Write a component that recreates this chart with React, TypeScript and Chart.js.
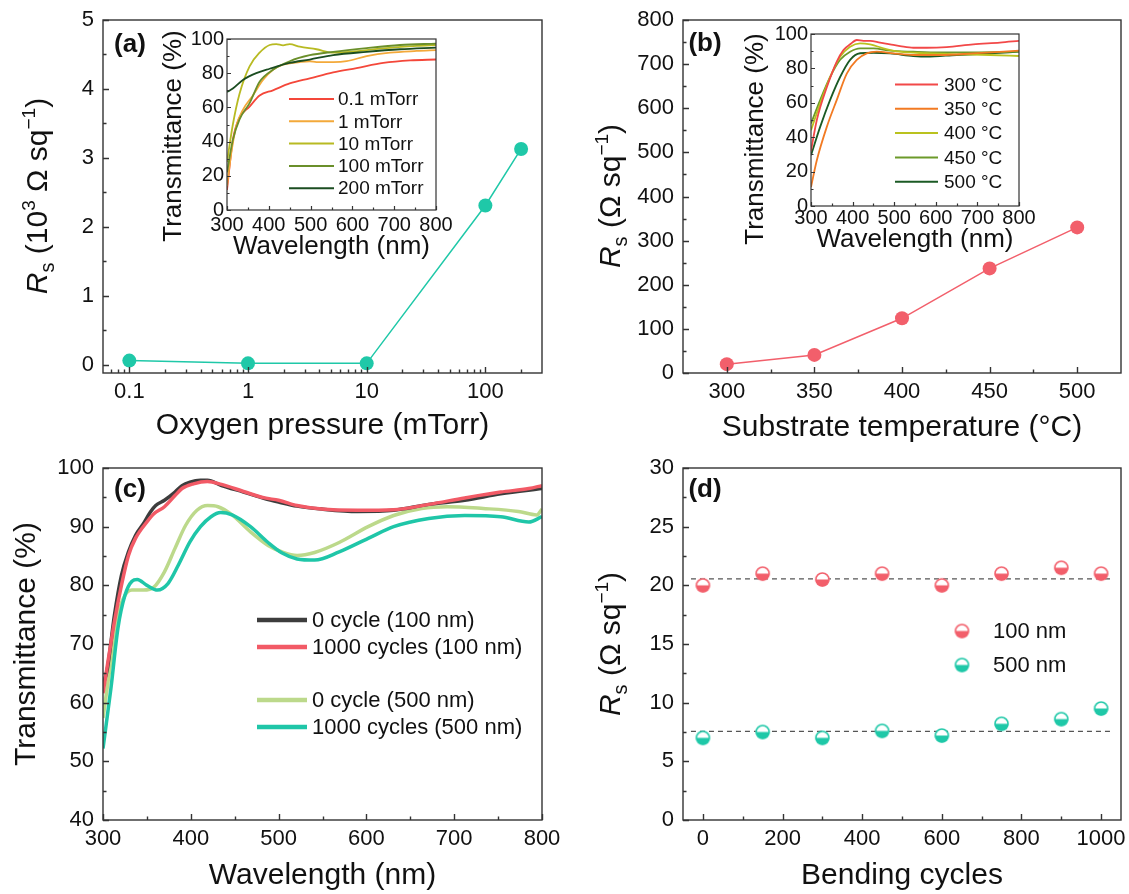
import React, { useEffect, useRef } from 'react';
import { Chart, registerables } from 'chart.js';
Chart.register(...registerables);

// ---------------- data ----------------
// (a) sheet resistance vs oxygen pressure (10^3 ohm/sq)
const pressureMTorr = [0.1, 1, 10, 100, 200];
const rsPressure = [0.06, 0.02, 0.02, 2.31, 3.13];
const pressureTicks = [0.1, 1, 10, 100];
const pressureMinor = [0.07, 0.08, 0.09, 0.2, 0.3, 0.4, 0.5, 0.6, 0.7, 0.8, 0.9, 2, 3, 4, 5, 6, 7, 8, 9, 20, 30, 40, 50, 60, 70, 80, 90, 200];
const rsPressureTicks = [0, 1, 2, 3, 4, 5];

// (a) inset spectra
const insetALabels = ['0.1 mTorr', '1 mTorr', '10 mTorr', '100 mTorr', '200 mTorr'];
const wlA01 = [300, 314, 330, 354, 378, 410, 450, 498, 554, 610, 674, 738, 800];
const tA01 = [11.7, 41, 54, 60.5, 67, 70, 74, 77, 80.5, 83, 86, 87.5, 88];
const wlA1 = [300, 310, 322, 338, 362, 386, 410, 434, 474, 498, 514, 554, 586, 634, 690, 754, 800];
const tA1 = [14, 33, 49, 58.6, 67, 76, 82, 85, 86.5, 87, 86.5, 86.5, 87, 90, 92, 93, 93.5];
const wlA10 = [300, 314, 330, 354, 378, 402, 418, 434, 450, 474, 514, 554, 594, 674, 754, 800];
const tA10 = [28, 50, 68, 84, 92, 96.5, 97, 96.3, 97, 95.5, 94, 92, 92.5, 94.5, 96, 96.5];
const wlA100 = [300, 314, 330, 354, 378, 410, 450, 498, 554, 634, 714, 800];
const tA100 = [22, 41, 53, 62.5, 75, 82, 87, 90.5, 92.5, 94.7, 96.5, 97.3];
const wlA200 = [300, 314, 338, 370, 402, 450, 498, 554, 634, 714, 800];
const tA200 = [69, 71, 76, 80, 82.6, 86, 88, 90.6, 92.5, 94, 95];

// (b) sheet resistance vs substrate temperature (ohm/sq)
const substrateTemp = [300, 350, 400, 450, 500];
const rsTemp = [20, 41, 124, 237, 330];
const tempTicks = [300, 350, 400, 450, 500];
const tempMinor = [325, 375, 425, 475];
const rsTempTicks = [0, 100, 200, 300, 400, 500, 600, 700, 800];
const rsTempMinor = [50, 150, 250, 350, 450, 550, 650, 750];

// (b) inset spectra
const insetBLabels = ['300 °C', '350 °C', '400 °C', '450 °C', '500 °C'];
const wlB300 = [300, 314, 338, 362, 378, 394, 410, 426, 442, 466, 490, 514, 546, 578, 626, 690, 754, 800];
const tB300 = [32, 50, 69, 84, 90.7, 94, 96.5, 96, 96, 95, 94, 93, 92, 92, 92.4, 94, 95, 96];
const wlB350 = [300, 314, 338, 362, 386, 410, 434, 458, 498, 546, 610, 690, 800];
const tB350 = [11, 26.6, 46, 61.7, 77, 84.9, 88.7, 89.7, 88.7, 87.8, 87.8, 88.7, 90.3];
const wlB400 = [300, 322, 346, 370, 394, 418, 442, 474, 514, 578, 650, 730, 800];
const tB400 = [44, 59.6, 75, 86.8, 92.6, 94.6, 94, 91.7, 89.7, 88.8, 88.2, 87.8, 87.2];
const wlB450 = [300, 322, 346, 370, 394, 418, 450, 490, 546, 610, 690, 800];
const tB450 = [48, 61.6, 75, 85, 89.7, 91.7, 91.7, 90.3, 89.7, 89.3, 89.3, 89.7];
const wlB500 = [300, 322, 346, 370, 394, 418, 450, 490, 546, 578, 650, 730, 800];
const tB500 = [29.5, 46, 61.7, 75, 85, 88.8, 89.1, 88.7, 87.2, 86.8, 87.8, 88.7, 89.7];

// shared inset ticks
const insetWlTicks = [300, 400, 500, 600, 700, 800];
const insetWlMinor = [350, 450, 550, 650, 750];
const insetTTicks = [0, 20, 40, 60, 80, 100];
const insetTMinor = [10, 30, 50, 70, 90];

// (c) transmittance before/after bending
const cLabels = ['0 cycle (100 nm)', '1000 cycles (100 nm)', '0 cycle (500 nm)', '1000 cycles (500 nm)'];
const wlC0_100 = [300, 305, 313, 321, 329, 337, 346, 354, 360, 370, 382, 390, 399, 411, 419, 435, 460, 484, 500, 521, 549, 590, 631, 671, 712, 753, 800];
const tC0_100 = [63, 65.8, 74.9, 81.7, 85.7, 88.5, 90.5, 92.5, 93.6, 94.5, 95.9, 97, 97.6, 97.9, 97.9, 97, 95.9, 94.8, 94.2, 93.5, 93, 92.6, 92.8, 93.8, 94.5, 95.6, 96.5];
const wlC1000_100 = [300, 313, 321, 329, 337, 350, 358, 370, 382, 390, 403, 419, 435, 460, 484, 500, 521, 549, 590, 631, 671, 712, 753, 785, 800];
const tC1000_100 = [61.6, 73.8, 80, 85.1, 88, 90.8, 92.2, 93.4, 95.3, 96.5, 97.3, 97.7, 97.2, 96, 94.9, 94.5, 93.6, 93, 92.8, 92.9, 93.8, 94.9, 95.9, 96.5, 97];
const wlC0_500 = [300, 309, 317, 325, 333, 346, 358, 370, 382, 394, 407, 419, 431, 447, 468, 488, 504, 521, 541, 569, 602, 631, 663, 692, 733, 773, 794, 800];
const tC0_500 = [57.4, 67, 74.9, 78.3, 79.2, 79.2, 79.7, 82.3, 86.3, 90.2, 92.8, 93.6, 93.4, 92, 89.1, 86.8, 85.7, 85.1, 85.6, 87.3, 90, 91.9, 93.1, 93.4, 93.1, 92.6, 92, 93];
const wlC1000_500 = [300, 309, 317, 325, 333, 339, 350, 362, 374, 386, 399, 411, 423, 434, 447, 468, 488, 504, 521, 541, 569, 602, 631, 671, 712, 753, 785, 800];
const tC1000_500 = [52.2, 62.4, 72.7, 78.3, 80.7, 81, 80, 79.2, 80.3, 83.5, 87.4, 90, 91.7, 92.4, 92, 90, 87.3, 85.5, 84.5, 84.3, 85.7, 88, 90, 91.4, 91.9, 91.7, 90.8, 91.7];
const cWlTicks = [300, 400, 500, 600, 700, 800];
const cWlMinor = [350, 450, 550, 650, 750];
const cTTicks = [40, 50, 60, 70, 80, 90, 100];
const cTMinor = [45, 55, 65, 75, 85, 95];

// (d) sheet resistance vs bending cycles
const dLabels = ['100 nm', '500 nm'];
const bendCycles = [0, 150, 300, 450, 600, 750, 900, 1000];
const rs100 = [20, 21, 20.5, 21, 20, 21, 21.5, 21];
const rs500 = [7, 7.5, 7, 7.6, 7.2, 8.2, 8.6, 9.5];
const avgSpan = [-30, 1030];
const avg100 = 20.55;
const avg500 = 7.55;
const bendTicks = [0, 200, 400, 600, 800, 1000];
const bendMinor = [100, 300, 500, 700, 900];
const rsBendTicks = [0, 5, 10, 15, 20, 25, 30];
const rsBendMinor = [2.5, 7.5, 12.5, 17.5, 22.5, 27.5];

// ---------------- styling ----------------
const FONT = "'Liberation Sans', Arial, Helvetica, sans-serif";
const TXT = '#111';
const FRAME = '#333';
const TEAL = '#1fc8a8';
const PINK = '#f25f6b';
const insetAColors = ['#f4473a', '#f3a93a', '#b8ba22', '#6a8f2a', '#1b4d21'];
const insetBColors = ['#f24848', '#f27a22', '#bac21e', '#6c9a2a', '#1b5a24'];
const cColors = ['#3d3d3d', '#f25a66', '#bcd98b', '#1fc6a8'];

const pts = (xs: number[], ys: number[]) => xs.map((x, i) => ({ x, y: ys[i] }));

type Seg = { t: string; size: number; dy?: number; italic?: boolean; bold?: boolean };
type Rich = { x: number; y: number; rot?: boolean; segs: Seg[] };
type LegItem = { x1?: number; x2?: number; img?: HTMLCanvasElement; ix?: number; y: number; color?: string; lw?: number; text: string; tx: number; size: number };
type Deco = {
  xMajor: number[]; xMinor: number[]; yMajor: number[]; yMinor: number[];
  major: number; minor: number; lw: number; titles: Rich[]; legend: LegItem[];
};

function drawRich(ctx: CanvasRenderingContext2D, r: Rich) {
  ctx.save();
  ctx.translate(r.x, r.y);
  if (r.rot) ctx.rotate(-Math.PI / 2);
  ctx.textBaseline = 'alphabetic';
  ctx.textAlign = 'left';
  ctx.fillStyle = TXT;
  const main = r.segs[0].size;
  const fonts = r.segs.map(s => `${s.italic ? 'italic ' : ''}${s.bold ? 'bold ' : ''}${s.size}px ${FONT}`);
  const widths = r.segs.map((s, i) => { ctx.font = fonts[i]; return ctx.measureText(s.t).width; });
  const total = widths.reduce((a, b) => a + b, 0);
  let x = -total / 2;
  const base = main * 0.36;
  r.segs.forEach((s, i) => {
    ctx.font = fonts[i];
    ctx.fillText(s.t, x, base + (s.dy || 0));
    x += widths[i];
  });
  ctx.restore();
}

function makeDeco(d: Deco) {
  return {
    id: 'deco',
    afterDraw(chart: any) {
      const ctx: CanvasRenderingContext2D = chart.ctx;
      const ca = chart.chartArea;
      const xs = chart.scales.x;
      const ys = chart.scales.y;
      ctx.save();
      ctx.strokeStyle = FRAME;
      ctx.lineWidth = d.lw;
      ctx.strokeRect(ca.left, ca.top, ca.right - ca.left, ca.bottom - ca.top);
      ctx.beginPath();
      const tx = (vals: number[], len: number) => vals.forEach(v => {
        const p = Math.round(xs.getPixelForValue(v)) + 0.5;
        ctx.moveTo(p, ca.bottom); ctx.lineTo(p, ca.bottom - len);
      });
      const ty = (vals: number[], len: number) => vals.forEach(v => {
        const p = Math.round(ys.getPixelForValue(v)) + 0.5;
        ctx.moveTo(ca.left, p); ctx.lineTo(ca.left + len, p);
      });
      tx(d.xMajor, d.major); tx(d.xMinor, d.minor);
      ty(d.yMajor, d.major); ty(d.yMinor, d.minor);
      ctx.stroke();
      ctx.restore();
      d.titles.forEach(t => drawRich(ctx, t));
      d.legend.forEach(it => {
        ctx.save();
        if (it.img) {
          ctx.drawImage(it.img, (it.ix as number) - it.img.width / 2, it.y - it.img.height / 2);
        } else {
          ctx.strokeStyle = it.color as string;
          ctx.lineWidth = it.lw || 2;
          ctx.beginPath();
          ctx.moveTo(it.x1 as number, it.y);
          ctx.lineTo(it.x2 as number, it.y);
          ctx.stroke();
        }
        ctx.fillStyle = TXT;
        ctx.font = `${it.size}px ${FONT}`;
        ctx.textBaseline = 'middle';
        ctx.textAlign = 'left';
        ctx.fillText(it.text, it.tx, it.y + 1);
        ctx.restore();
      });
    },
  };
}

function axis(o: {
  pos: 'x' | 'y'; type?: string; min: number; max: number; ticks: number[]; size: number;
  fontSize: number; pad: number; title?: string; titleSize?: number; titlePadBottom?: number;
}) {
  const s: any = {
    type: o.type || 'linear',
    position: o.pos === 'x' ? 'bottom' : 'left',
    min: o.min,
    max: o.max,
    afterBuildTicks: (sc: any) => { sc.ticks = o.ticks.map(v => ({ value: v })); },
    afterFit: (sc: any) => {
      if (o.pos === 'x') sc.height = o.size; else sc.width = o.size;
      sc.paddingLeft = 0; sc.paddingRight = 0; sc.paddingTop = 0; sc.paddingBottom = 0;
    },
    grid: { display: false, drawTicks: false },
    border: { display: false },
    ticks: {
      font: { family: FONT, size: o.fontSize },
      color: TXT,
      padding: o.pad,
      maxRotation: 0,
      minRotation: 0,
      autoSkip: false,
      callback: (v: any) => String(v),
    },
    title: o.title
      ? { display: true, text: o.title, color: TXT, font: { family: FONT, size: o.titleSize }, padding: { top: 0, bottom: o.titlePadBottom || 0 } }
      : { display: false },
  };
  return s;
}

function halfMarker(color: string, r = 7) {
  const c = document.createElement('canvas');
  const s = 2 * r + 3;
  c.width = s; c.height = s;
  const g = c.getContext('2d') as CanvasRenderingContext2D;
  const cx = s / 2, cy = s / 2;
  g.fillStyle = '#fff';
  g.beginPath(); g.arc(cx, cy, r, 0, Math.PI * 2); g.fill();
  g.fillStyle = color;
  g.beginPath(); g.arc(cx, cy, r, 0, Math.PI); g.closePath(); g.fill();
  g.strokeStyle = color; g.lineWidth = 1.5;
  g.beginPath(); g.arc(cx, cy, r - 0.5, 0, Math.PI * 2); g.stroke();
  return c;
}

const baseOptions = (padding: any, scales: any) => ({
  responsive: false,
  animation: false as const,
  devicePixelRatio: 1,
  layout: { padding },
  plugins: { legend: { display: false }, tooltip: { enabled: false } },
  scales,
});

const specLine = (xs: number[], ys: number[], color: string, width: number, order = 0) => ({
  data: pts(xs, ys),
  borderColor: color,
  backgroundColor: color,
  borderWidth: width,
  pointRadius: 0,
  showLine: true,
  cubicInterpolationMode: 'monotone' as const,
  order,
});

const RS = (size: number, inner: Seg[]): Seg[] => [
  { t: 'R', size, italic: true },
  { t: 's', size: Math.round(size * 0.65), dy: 7 },
  ...inner,
];

// ---------------- chart configs ----------------
function configA() {
  return {
    type: 'scatter' as const,
    data: {
      datasets: [{
        data: pts(pressureMTorr, rsPressure),
        borderColor: TEAL, backgroundColor: TEAL, borderWidth: 1.5,
        pointRadius: 7, pointBorderWidth: 0, showLine: true,
      }],
    },
    options: baseOptions({ left: 0, top: 20, right: 22, bottom: 0 }, {
      x: axis({ pos: 'x', type: 'logarithmic', min: 0.06, max: 300, ticks: pressureTicks, size: 74, fontSize: 22, pad: 6, title: 'Oxygen pressure (mTorr)', titleSize: 30, titlePadBottom: 3 }),
      y: axis({ pos: 'y', min: -0.12, max: 5, ticks: rsPressureTicks, size: 103, fontSize: 22, pad: 9 }),
    }),
    plugins: [makeDeco({
      xMajor: pressureTicks, xMinor: pressureMinor, yMajor: rsPressureTicks, yMinor: [0.5, 1.5, 2.5, 3.5, 4.5],
      major: 6, minor: 3.5, lw: 1.4,
      titles: [
        { x: 36, y: 196, rot: true, segs: RS(30, [
          { t: ' (10', size: 30 }, { t: '3', size: 19, dy: -12 }, { t: ' Ω sq', size: 30 }, { t: '−1', size: 19, dy: -12 }, { t: ')', size: 30 },
        ]) },
        { x: 130, y: 43, segs: [{ t: '(a)', size: 26, bold: true }] },
      ],
      legend: [],
    })],
  };
}

function configB() {
  return {
    type: 'scatter' as const,
    data: {
      datasets: [{
        data: pts(substrateTemp, rsTemp),
        borderColor: PINK, backgroundColor: PINK, borderWidth: 1.5,
        pointRadius: 7, pointBorderWidth: 0, showLine: true,
      }],
    },
    options: baseOptions({ left: 0, top: 20, right: 8, bottom: 0 }, {
      x: axis({ pos: 'x', min: 275, max: 525, ticks: tempTicks, size: 74, fontSize: 22, pad: 6, title: 'Substrate temperature (°C)', titleSize: 30, titlePadBottom: 1 }),
      y: axis({ pos: 'y', min: 0, max: 800, ticks: rsTempTicks, size: 119, fontSize: 22, pad: 9 }),
    }),
    plugins: [makeDeco({
      xMajor: tempTicks, xMinor: tempMinor, yMajor: rsTempTicks, yMinor: rsTempMinor,
      major: 6, minor: 3.5, lw: 1.4,
      titles: [
        { x: 45, y: 196, rot: true, segs: RS(30, [
          { t: ' (Ω sq', size: 30 }, { t: '−1', size: 19, dy: -12 }, { t: ')', size: 30 },
        ]) },
        { x: 141, y: 42, segs: [{ t: '(b)', size: 26, bold: true }] },
      ],
      legend: [],
    })],
  };
}

function configC() {
  const ys = [tC0_100, tC1000_100, tC0_500, tC1000_500];
  const xs = [wlC0_100, wlC1000_100, wlC0_500, wlC1000_500];
  const legY = [173, 200, 253, 280];
  return {
    type: 'scatter' as const,
    data: {
      datasets: [
        specLine(xs[0], ys[0], cColors[0], 3.5, 1),
        specLine(xs[1], ys[1], cColors[1], 3.5, 0),
        specLine(xs[2], ys[2], cColors[2], 3.5, 1),
        specLine(xs[3], ys[3], cColors[3], 3.5, 0),
      ],
    },
    options: baseOptions({ left: 0, top: 21, right: 22, bottom: 0 }, {
      x: axis({ pos: 'x', min: 300, max: 800, ticks: cWlTicks, size: 74, fontSize: 22, pad: 6, title: 'Wavelength (nm)', titleSize: 30, titlePadBottom: 0 }),
      y: axis({ pos: 'y', min: 40, max: 100, ticks: cTTicks, size: 103, fontSize: 22, pad: 9 }),
    }),
    plugins: [makeDeco({
      xMajor: cWlTicks, xMinor: cWlMinor, yMajor: cTTicks, yMinor: cTMinor,
      major: 6, minor: 3.5, lw: 1.4,
      titles: [
        { x: 24, y: 197, rot: true, segs: [{ t: 'Transmittance (%)', size: 30 }] },
        { x: 130, y: 41, segs: [{ t: '(c)', size: 26, bold: true }] },
      ],
      legend: cLabels.map((t, i) => ({ x1: 257, x2: 307, y: legY[i], color: cColors[i], lw: 4.5, text: t, tx: 312, size: 22 })),
    })],
  };
}

function configD() {
  const m100 = halfMarker(PINK, 7);
  const m500 = halfMarker(TEAL, 7);
  const dashed = (y: number) => ({
    data: pts(avgSpan, [y, y]),
    borderColor: '#555', borderWidth: 1.3, borderDash: [5, 4], pointRadius: 0, showLine: true, order: 5,
  });
  return {
    type: 'scatter' as const,
    data: {
      datasets: [
        { data: pts(bendCycles, rs100), pointStyle: m100, pointRadius: 7, showLine: false, order: 0 },
        { data: pts(bendCycles, rs500), pointStyle: m500, pointRadius: 7, showLine: false, order: 0 },
        dashed(avg100),
        dashed(avg500),
      ],
    },
    options: baseOptions({ left: 0, top: 21, right: 8, bottom: 0 }, {
      x: axis({ pos: 'x', min: -50, max: 1050, ticks: bendTicks, size: 74, fontSize: 22, pad: 6, title: 'Bending cycles', titleSize: 30, titlePadBottom: 0 }),
      y: axis({ pos: 'y', min: 0, max: 30, ticks: rsBendTicks, size: 119, fontSize: 22, pad: 9 }),
    }),
    plugins: [makeDeco({
      xMajor: bendTicks, xMinor: bendMinor, yMajor: rsBendTicks, yMinor: rsBendMinor,
      major: 6, minor: 3.5, lw: 1.4,
      titles: [
        { x: 45, y: 197, rot: true, segs: RS(30, [
          { t: ' (Ω sq', size: 30 }, { t: '−1', size: 19, dy: -12 }, { t: ')', size: 30 },
        ]) },
        { x: 141, y: 41, segs: [{ t: '(d)', size: 26, bold: true }] },
      ],
      legend: [
        { img: m100, ix: 398, y: 184, text: dLabels[0], tx: 429, size: 22 },
        { img: m500, ix: 398, y: 218, text: dLabels[1], tx: 429, size: 22 },
      ],
    })],
  };
}

function configInsetA() {
  const xs = [wlA01, wlA1, wlA10, wlA100, wlA200];
  const ys = [tA01, tA1, tA10, tA100, tA200];
  return {
    type: 'scatter' as const,
    data: { datasets: xs.map((x, i) => specLine(x, ys[i], insetAColors[i], 1.8, 4 - i)) },
    options: baseOptions({ left: 0, top: 14, right: 20, bottom: 0 }, {
      x: axis({ pos: 'x', min: 300, max: 800, ticks: insetWlTicks, size: 55, fontSize: 20, pad: 3, title: 'Wavelength (nm)', titleSize: 26, titlePadBottom: 3 }),
      y: axis({ pos: 'y', min: 0, max: 100, ticks: insetTTicks, size: 77, fontSize: 20, pad: 3 }),
    }),
    plugins: [makeDeco({
      xMajor: insetWlTicks, xMinor: insetWlMinor, yMajor: insetTTicks, yMinor: insetTMinor,
      major: 4, minor: 2.5, lw: 1.2,
      titles: [{ x: 22, y: 111, rot: true, segs: [{ t: 'Transmittance (%)', size: 26 }] }],
      legend: insetALabels.map((t, i) => ({ x1: 139, x2: 184, y: 74 + 22.3 * i, color: insetAColors[i], lw: 2, text: t, tx: 188, size: 19 })),
    })],
  };
}

function configInsetB() {
  const xs = [wlB300, wlB350, wlB400, wlB450, wlB500];
  const ys = [tB300, tB350, tB400, tB450, tB500];
  return {
    type: 'scatter' as const,
    data: { datasets: xs.map((x, i) => specLine(x, ys[i], insetBColors[i], 1.8, i)) },
    options: baseOptions({ left: 0, top: 14, right: 26, bottom: 0 }, {
      x: axis({ pos: 'x', min: 300, max: 800, ticks: insetWlTicks, size: 59, fontSize: 20, pad: 0, title: 'Wavelength (nm)', titleSize: 26, titlePadBottom: 10 }),
      y: axis({ pos: 'y', min: 0, max: 100, ticks: insetTTicks, size: 76, fontSize: 20, pad: 3 }),
    }),
    plugins: [makeDeco({
      xMajor: insetWlTicks, xMinor: insetWlMinor, yMajor: insetTTicks, yMinor: insetTMinor,
      major: 4, minor: 2.5, lw: 1.2,
      titles: [{ x: 19, y: 119, rot: true, segs: [{ t: 'Transmittance (%)', size: 26 }] }],
      legend: insetBLabels.map((t, i) => ({ x1: 160, x2: 203, y: 64.5 + 24.3 * i, color: insetBColors[i], lw: 2, text: t, tx: 209, size: 19 })),
    })],
  };
}

// ---------------- components ----------------
function ChartCanvas(props: { left: number; top: number; width: number; height: number; make: () => any }) {
  const ref = useRef<HTMLCanvasElement>(null);
  useEffect(() => {
    const chart = new Chart(ref.current as HTMLCanvasElement, props.make());
    return () => chart.destroy();
  }, []);
  return (
    <canvas
      ref={ref}
      width={props.width}
      height={props.height}
      style={{ position: 'absolute', left: props.left, top: props.top, width: props.width, height: props.height }}
    />
  );
}

export default function App() {
  return (
    <div style={{ position: 'absolute', left: 0, top: 0, width: 1129, height: 894, background: '#fff', overflow: 'hidden' }}>
      <ChartCanvas left={0} top={0} width={564} height={447} make={configA} />
      <ChartCanvas left={564} top={0} width={565} height={447} make={configB} />
      <ChartCanvas left={0} top={447} width={564} height={447} make={configC} />
      <ChartCanvas left={564} top={447} width={565} height={447} make={configD} />
      <ChartCanvas left={150} top={25} width={306} height={240} make={configInsetA} />
      <ChartCanvas left={735} top={20} width={310} height={245} make={configInsetB} />
    </div>
  );
}
